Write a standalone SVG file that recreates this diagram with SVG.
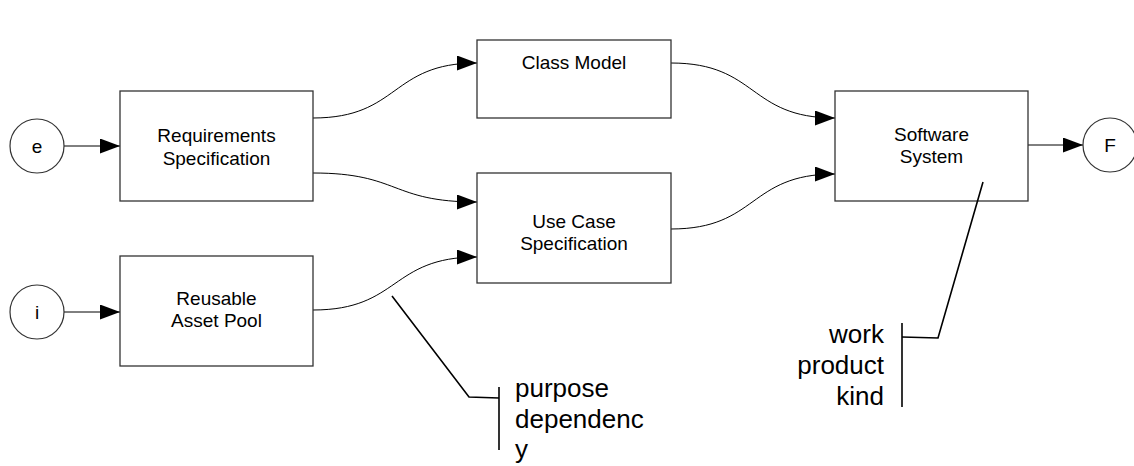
<svg xmlns="http://www.w3.org/2000/svg" width="1134" height="466" viewBox="0 0 1134 466">
<style>
.box{fill:#fff;stroke:#333;stroke-width:1.3}
.circ{fill:#fff;stroke:#333;stroke-width:1.2}
.lbl{font-family:"Liberation Sans",Arial,sans-serif;font-size:19px;fill:#000;text-anchor:middle}
.note{font-family:"Liberation Sans",Arial,sans-serif;font-size:26px;fill:#000}
.conn{fill:none;stroke:#000;stroke-width:1;marker-end:url(#arr)}
.call{fill:none;stroke:#000;stroke-width:1.6}
</style>
<defs>
<marker id="arr" markerUnits="userSpaceOnUse" markerWidth="20" markerHeight="16" refX="20" refY="7.5" orient="auto">
<path d="M0,0 L20,7.5 L0,15 z" fill="#000"/>
</marker>
</defs>
<rect width="1134" height="466" fill="#fff"/>
<g id="connectors">
<path class="conn" d="M64,146 L120,146"/>
<path class="conn" d="M64,312 L120,312"/>
<path class="conn" d="M313,118 C400,118 390,63 477,63"/>
<path class="conn" d="M313,173 C400,173 390,202 477,202"/>
<path class="conn" d="M313,310 C400,310 390,257 477,257"/>
<path class="conn" d="M671,63 C758,63 748,118 835,118"/>
<path class="conn" d="M671,229 C758,229 748,174 835,174"/>
<path class="conn" d="M1028,145 L1083,145"/>
</g>
<g id="node-e"><circle class="circ" cx="37" cy="146" r="27"/><text class="lbl" x="37" y="153">e</text></g>
<g id="node-i"><circle class="circ" cx="37" cy="312" r="27"/><text class="lbl" x="37" y="319">i</text></g>
<g id="node-F"><circle class="circ" cx="1110" cy="145" r="27"/><text class="lbl" x="1110" y="152">F</text></g>
<g id="node-req"><rect class="box" x="120" y="91" width="193" height="110"/><text class="lbl" x="216.5" y="142">Requirements</text><text class="lbl" x="216.5" y="165">Specification</text></g>
<g id="node-reuse"><rect class="box" x="120" y="256" width="193" height="110"/><text class="lbl" x="216.5" y="305">Reusable</text><text class="lbl" x="216.5" y="327">Asset Pool</text></g>
<g id="node-class"><rect class="box" x="477" y="40" width="194" height="78"/><text class="lbl" x="574" y="69">Class Model</text></g>
<g id="node-usecase"><rect class="box" x="477" y="173" width="194" height="110"/><text class="lbl" x="574" y="228">Use Case</text><text class="lbl" x="574" y="250">Specification</text></g>
<g id="node-software"><rect class="box" x="835" y="91" width="193" height="110"/><text class="lbl" x="931.5" y="141">Software</text><text class="lbl" x="931.5" y="163">System</text></g>
<g id="note-purpose">
<path class="call" d="M392,296 L469,397 L499,398"/>
<path class="call" d="M499,387 L499,450"/>
<text class="note" x="515" y="397">purpose</text>
<text class="note" x="515" y="428">dependenc</text>
<text class="note" x="515" y="458">y</text>
</g>
<g id="note-kind">
<path class="call" d="M983,182 L938,338 L902,337"/>
<path class="call" d="M902,323 L902,407"/>
<text class="note" x="884" y="343" text-anchor="end">work</text>
<text class="note" x="884" y="374" text-anchor="end">product</text>
<text class="note" x="884" y="405" text-anchor="end">kind</text>
</g>
</svg>
